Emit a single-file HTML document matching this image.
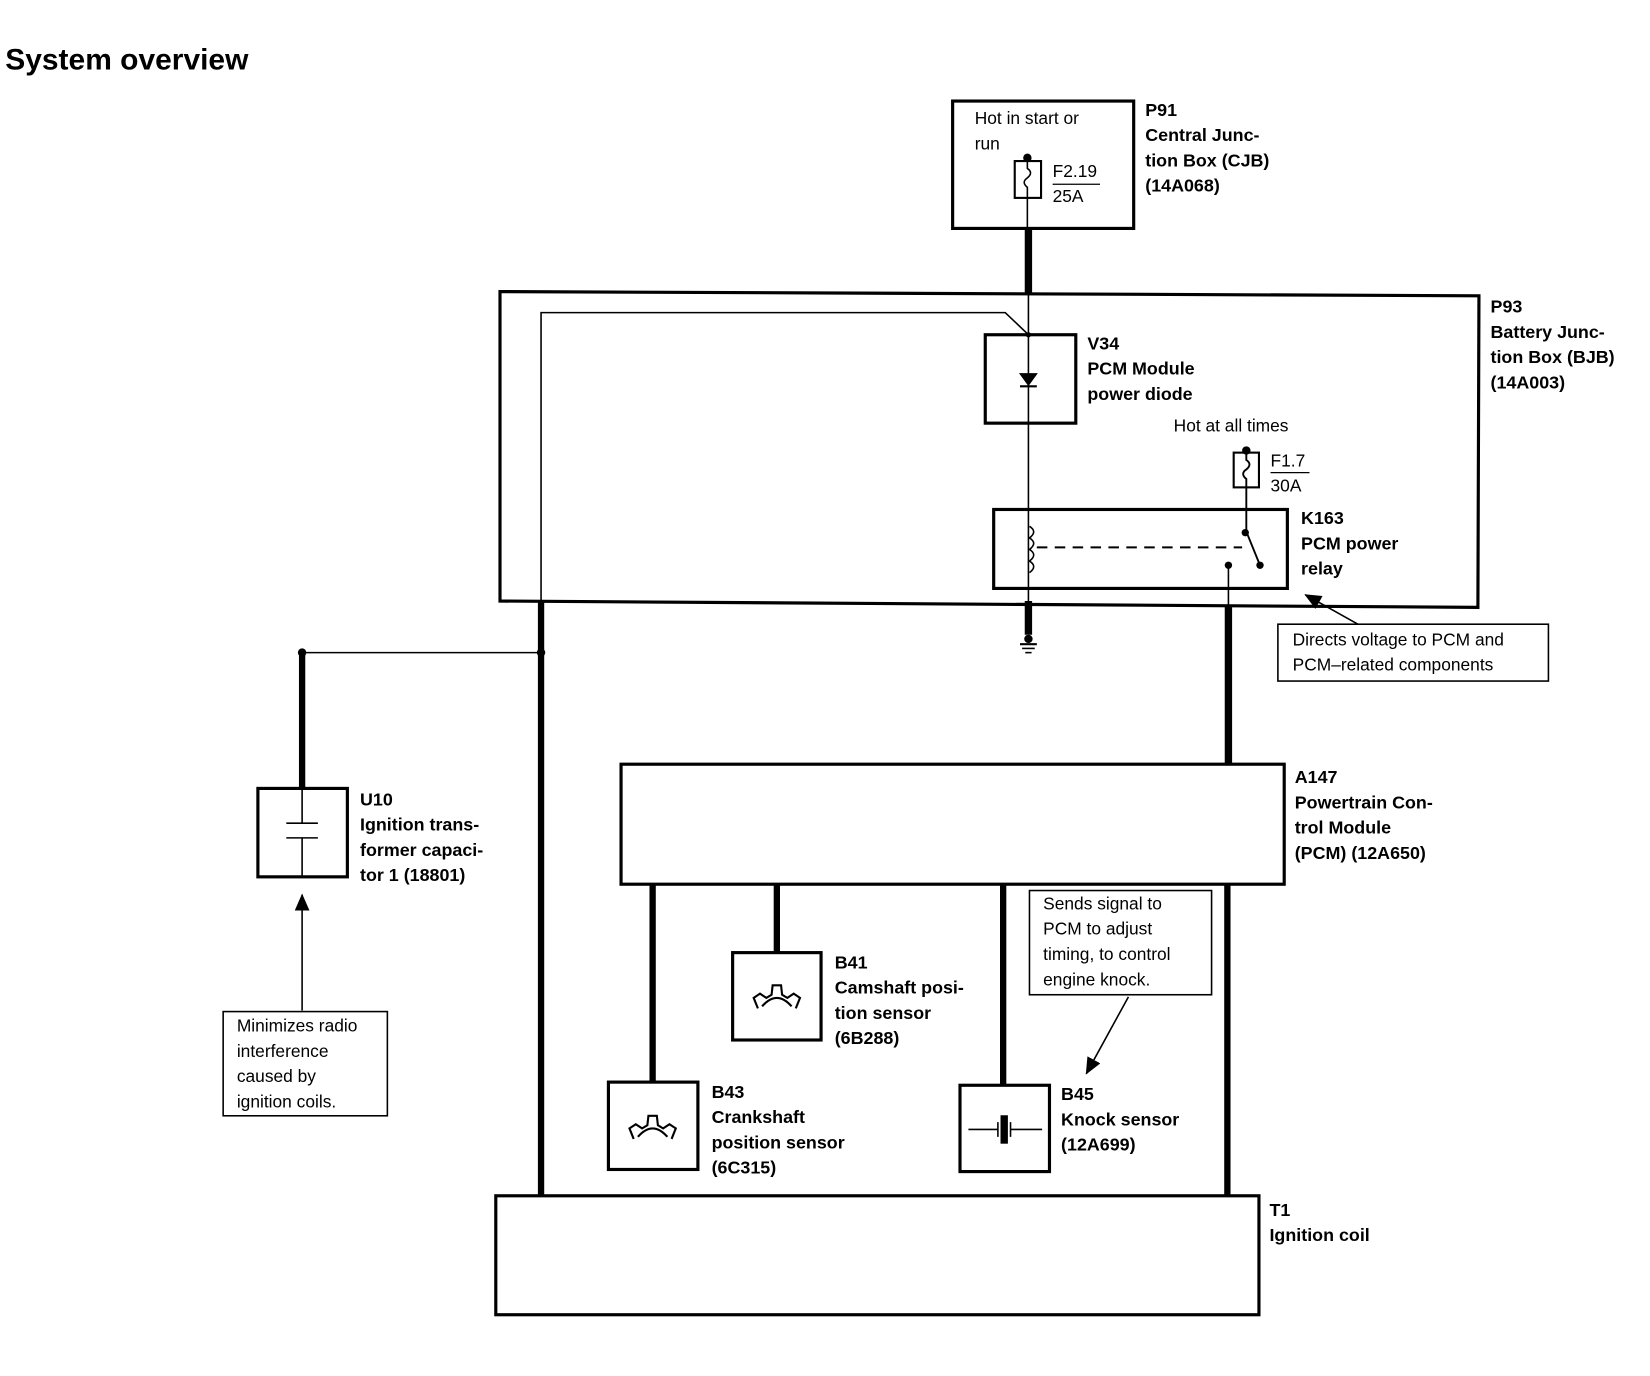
<!DOCTYPE html>
<html><head><meta charset="utf-8"><style>
html,body{margin:0;padding:0;background:#fff;}
svg{display:block;}
text{font-family:"Liberation Sans",Arial,sans-serif;fill:#000;}
.b{font-weight:bold;font-size:17px;}
.n{font-size:16.5px;}
</style></head><body>
<svg width="1650" height="1376" viewBox="0 0 1567.5 1307.2" preserveAspectRatio="none" xmlns="http://www.w3.org/2000/svg">
<defs>
<marker id="ah2" markerWidth="16" markerHeight="14" refX="15" refY="7" orient="auto" markerUnits="userSpaceOnUse"><path d="M0,0 L16,7 L0,14 z" fill="#000"/></marker>
<path id="gear" d="M-18,12 L-22,2 L-16,-2 L-10,2 L-5,-1 L-4,-10 L4,-10 L5,-1 L10,2 L16,-2 L22,2 L18,12 M-14,10 Q0,-6 14,10" fill="none" stroke="#000" stroke-width="2"/>
</defs>
<text x="5" y="66" style="font-weight:bold;font-size:28.5px" textLength="231" lengthAdjust="spacingAndGlyphs">System overview</text>

<g fill="none" stroke="#000">
<rect x="905" y="96" width="172" height="121" stroke-width="3"/>
<rect x="964" y="153" width="25" height="35" stroke-width="2"/>
<path d="M976,150 V160 q6,4 0,9 q-6,4 0,9 V217" stroke-width="1.5"/>
<line x1="1000" y1="175" x2="1045" y2="175" stroke-width="1.2"/>
<line x1="977" y1="217" x2="977" y2="278" stroke-width="7"/>
<path d="M475,277 L1405,281 L1404,577 L475,571 Z" stroke-width="3"/>
<path d="M514,1135 V297 H955 L976,317" stroke-width="1.5"/>
<line x1="977" y1="278" x2="977" y2="600" stroke-width="1.5"/>
<rect x="936" y="318" width="86" height="84" stroke-width="3"/>
<path d="M969,355 H985 L977,366 Z" fill="#000" stroke-width="1"/>
<line x1="969" y1="367" x2="985" y2="367" stroke-width="2"/>
<rect x="944" y="484" width="279" height="75" stroke-width="3"/>
<path d="M978,500 q8,5 0,11 q8,5 0,11 q8,5 0,11 q8,5 0,11" stroke-width="1.5"/>
<line x1="985" y1="520" x2="1180" y2="520" stroke-width="1.8" stroke-dasharray="10,7"/>
<rect x="1172" y="430" width="24" height="33" stroke-width="2"/>
<path d="M1184,428 V437 q6,4 0,9 q-6,4 0,9 V505 L1197,537" stroke-width="1.8"/>
<line x1="1167" y1="537" x2="1167" y2="727" stroke-width="1.5"/>
<line x1="1167" y1="575" x2="1167" y2="727" stroke-width="7"/>
<line x1="977" y1="571" x2="977" y2="603" stroke-width="7"/>
<line x1="969" y1="612" x2="985" y2="612" stroke-width="2"/>
<line x1="971" y1="616" x2="983" y2="616" stroke-width="1.5"/>
<line x1="974" y1="620" x2="980" y2="620" stroke-width="1.5"/>
<line x1="514" y1="571" x2="514" y2="1137" stroke-width="6"/>
<line x1="287" y1="620" x2="514" y2="620" stroke-width="1.5"/>
<line x1="287" y1="620" x2="287" y2="750" stroke-width="6"/>
<rect x="245" y="749" width="85" height="84" stroke-width="3"/>
<path d="M287,750 V782 M272,782 H302 M272,796 H302 M287,796 V833" stroke-width="1.5"/>
<line x1="287" y1="960" x2="287" y2="850" stroke-width="1.5" marker-end="url(#ah2)"/>
<rect x="212" y="961" width="156" height="99" stroke-width="1.5"/>
<rect x="590" y="726" width="630" height="114" stroke-width="3"/>
<line x1="620" y1="840" x2="620" y2="1028" stroke-width="6"/>
<line x1="738" y1="840" x2="738" y2="905" stroke-width="6"/>
<line x1="953" y1="840" x2="953" y2="1031" stroke-width="6"/>
<line x1="1166" y1="840" x2="1166" y2="1137" stroke-width="6"/>
<rect x="696" y="905" width="84" height="83" stroke-width="3"/>
<rect x="578" y="1028" width="85" height="83" stroke-width="3"/>
<rect x="912" y="1031" width="85" height="82" stroke-width="3"/>
<path d="M920,1073 H948 M948,1066 V1080 M960,1066 V1080 M960,1073 H990" stroke-width="1.5"/>
<rect x="951" y="1060" width="6" height="26" fill="#000" stroke-width="1"/>
<rect x="978" y="846" width="173" height="99" stroke-width="1.5"/>
<line x1="1072" y1="947" x2="1032" y2="1020" stroke-width="1.5" marker-end="url(#ah2)"/>
<rect x="471" y="1136" width="725" height="113" stroke-width="3"/>
<rect x="1214" y="593" width="257" height="54" stroke-width="1.5"/>
<line x1="1290" y1="593" x2="1240" y2="565" stroke-width="1.5" marker-end="url(#ah2)"/>
</g>
<use href="#gear" x="738" y="946"/>
<use href="#gear" x="620" y="1070"/>
<g fill="#000">
<circle cx="976" cy="150" r="4"/><circle cx="1184" cy="428" r="4"/><circle cx="1183" cy="506" r="3.5"/>
<circle cx="1197" cy="537" r="3.5"/><circle cx="1167" cy="537" r="3.5"/><circle cx="977" cy="318" r="2.5"/>
<circle cx="514" cy="620" r="4"/><circle cx="287" cy="620" r="4"/><circle cx="977" cy="607" r="4"/>
</g>
<text class="n" x="926" y="118">Hot in start or</text>
<text class="n" x="926" y="142">run</text>
<text class="n" x="1000" y="168">F2.19</text>
<text class="n" x="1000" y="192">25A</text>
<text class="b" x="1088" y="110">P91</text>
<text class="b" x="1088" y="134">Central Junc-</text>
<text class="b" x="1088" y="158">tion Box (CJB)</text>
<text class="b" x="1088" y="182">(14A068)</text>
<text class="b" x="1416" y="297">P93</text>
<text class="b" x="1416" y="321">Battery Junc-</text>
<text class="b" x="1416" y="345">tion Box (BJB)</text>
<text class="b" x="1416" y="369">(14A003)</text>
<text class="b" x="1033" y="332">V34</text>
<text class="b" x="1033" y="356">PCM Module</text>
<text class="b" x="1033" y="380">power diode</text>
<text class="n" x="1115" y="410">Hot at all times</text>
<text class="n" x="1207" y="443">F1.7</text>
<line x1="1207" y1="449" x2="1244" y2="449" stroke="#000" stroke-width="1.2"/>
<text class="n" x="1207" y="467">30A</text>
<text class="b" x="1236" y="498">K163</text>
<text class="b" x="1236" y="522">PCM power</text>
<text class="b" x="1236" y="546">relay</text>
<text class="n" x="1228" y="613">Directs voltage to PCM and</text>
<text class="n" x="1228" y="637">PCM–related components</text>
<text class="b" x="342" y="765">U10</text>
<text class="b" x="342" y="789">Ignition trans-</text>
<text class="b" x="342" y="813">former capaci-</text>
<text class="b" x="342" y="837">tor 1 (18801)</text>
<text class="n" x="225" y="980">Minimizes radio</text>
<text class="n" x="225" y="1004">interference</text>
<text class="n" x="225" y="1028">caused by</text>
<text class="n" x="225" y="1052">ignition coils.</text>
<text class="b" x="1230" y="744">A147</text>
<text class="b" x="1230" y="768">Powertrain Con-</text>
<text class="b" x="1230" y="792">trol Module</text>
<text class="b" x="1230" y="816">(PCM) (12A650)</text>
<text class="n" x="991" y="864">Sends signal to</text>
<text class="n" x="991" y="888">PCM to adjust</text>
<text class="n" x="991" y="912">timing, to control</text>
<text class="n" x="991" y="936">engine knock.</text>
<text class="b" x="793" y="920">B41</text>
<text class="b" x="793" y="944">Camshaft posi-</text>
<text class="b" x="793" y="968">tion sensor</text>
<text class="b" x="793" y="992">(6B288)</text>
<text class="b" x="676" y="1043">B43</text>
<text class="b" x="676" y="1067">Crankshaft</text>
<text class="b" x="676" y="1091">position sensor</text>
<text class="b" x="676" y="1115">(6C315)</text>
<text class="b" x="1008" y="1045">B45</text>
<text class="b" x="1008" y="1069">Knock sensor</text>
<text class="b" x="1008" y="1093">(12A699)</text>
<text class="b" x="1206" y="1155">T1</text>
<text class="b" x="1206" y="1179">Ignition coil</text>
</svg>
</body></html>
